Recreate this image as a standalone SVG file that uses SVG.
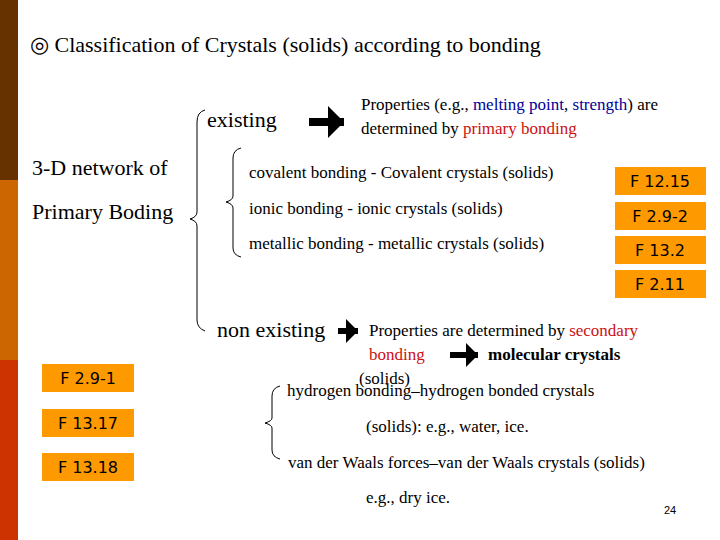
<svg xmlns="http://www.w3.org/2000/svg" width="720" height="540" viewBox="0 0 720 540">
<style>
.s{fill:#000;font-family:"Liberation Serif","Times New Roman",serif}
.t17{font-size:17px}.t22{font-size:22px}
.b{fill:#FF9900}
.bt{font-family:"DejaVu Sans","Liberation Sans",sans-serif;font-size:16px;fill:#000;text-anchor:middle}
.br{fill:none;stroke:#000;stroke-width:1}
.red{fill:#CC1111}.blue{fill:#000099}
</style>
<defs><marker id="ah" markerWidth="4" markerHeight="4" refX="2" refY="2" orient="auto" markerUnits="strokeWidth"><path d="M0,0 L2,2 L0,4 Z" fill="#000"/></marker></defs>
<rect width="720" height="540" fill="#fff"/>
<rect x="0" y="0" width="18" height="180" fill="#663300"/>
<rect x="0" y="180" width="18" height="180" fill="#CC6600"/>
<rect x="0" y="360" width="18" height="180" fill="#CC3300"/>
<text x="30" y="52" class="s t22">◎ Classification of Crystals (solids) according to bonding</text>
<g id="root"><text x="32" y="175" class="s t22">3-D network of</text><text x="32" y="219" class="s t22">Primary Boding</text></g>
<g id="existing"><text x="207" y="127" class="s t22">existing</text></g>
<g id="prop1"><text x="361" y="110" class="s t17">Properties (e.g., <tspan class="blue">melting point</tspan>, <tspan class="blue">strength</tspan>) are</text>
<text x="361" y="134" class="s t17">determined by <tspan class="red">primary bonding</tspan></text></g>
<g id="primary">
<text x="249" y="178" class="s t17">covalent bonding - Covalent crystals (solids)</text>
<text x="249" y="214" class="s t17">ionic bonding - ionic crystals (solids)</text>
<text x="249" y="249" class="s t17">metallic bonding - metallic crystals (solids)</text></g>
<g id="nonexisting"><text x="217" y="337" class="s t22">non existing</text></g>
<g id="prop2"><text x="369" y="336" class="s t17">Properties are determined by <tspan class="red">secondary</tspan></text>
<text x="369" y="360" class="s t17 red">bonding</text>
<text x="488" y="360" class="s t17" font-weight="bold">molecular crystals</text>
<text x="359" y="384" class="s t17">(solids)</text></g>
<g id="secondary">
<text x="287" y="396" class="s t17">hydrogen bonding–hydrogen bonded crystals</text>
<text x="366" y="432" class="s t17">(solids): e.g., water, ice.</text>
<text x="288" y="468" class="s t17">van der Waals forces–van der Waals crystals (solids)</text>
<text x="366" y="503" class="s t17">e.g., dry ice.</text></g>
<g id="braces">
<path class="br" d="M205,110 Q197,112 197,122 L197,212 Q197,217 190,219 Q197,221 197,226 L197,320 Q197,328 205,331"/>
<path class="br" d="M241,148 Q233,150 233,158 L233,196 Q233,200 226,202 Q233,204 233,208 L233,248 Q233,255 241,257"/>
<path class="br" d="M280,386 Q272,388 272,396 L272,418 Q272,421 265,423 Q272,425 272,428 L272,450 Q272,457 280,459"/>
</g>
<g id="connectors">
<line x1="309" y1="122" x2="344" y2="122" stroke="#000" stroke-width="8" marker-end="url(#ah)"/>
<line x1="338" y1="331" x2="358" y2="331" stroke="#000" stroke-width="6" marker-end="url(#ah)"/>
<line x1="450" y1="355" x2="478" y2="355" stroke="#000" stroke-width="6" marker-end="url(#ah)"/>
</g>
<g id="boxR1"><rect class="b" x="615" y="167" width="91" height="28"/><text class="bt" x="660" y="187">F 12.15</text></g>
<g id="boxR2"><rect class="b" x="615" y="202" width="91" height="28"/><text class="bt" x="660" y="222">F 2.9-2</text></g>
<g id="boxR3"><rect class="b" x="615" y="236" width="91" height="28"/><text class="bt" x="660" y="256">F 13.2</text></g>
<g id="boxR4"><rect class="b" x="615" y="270" width="91" height="28"/><text class="bt" x="660" y="290">F 2.11</text></g>
<g id="boxL1"><rect class="b" x="42" y="364" width="92" height="28"/><text class="bt" x="88" y="384">F 2.9-1</text></g>
<g id="boxL2"><rect class="b" x="42" y="409" width="92" height="28"/><text class="bt" x="88" y="429">F 13.17</text></g>
<g id="boxL3"><rect class="b" x="42" y="453" width="92" height="28"/><text class="bt" x="88" y="473">F 13.18</text></g>
<text x="664" y="514" font-family="Liberation Sans, sans-serif" font-size="11">24</text>
</svg>
